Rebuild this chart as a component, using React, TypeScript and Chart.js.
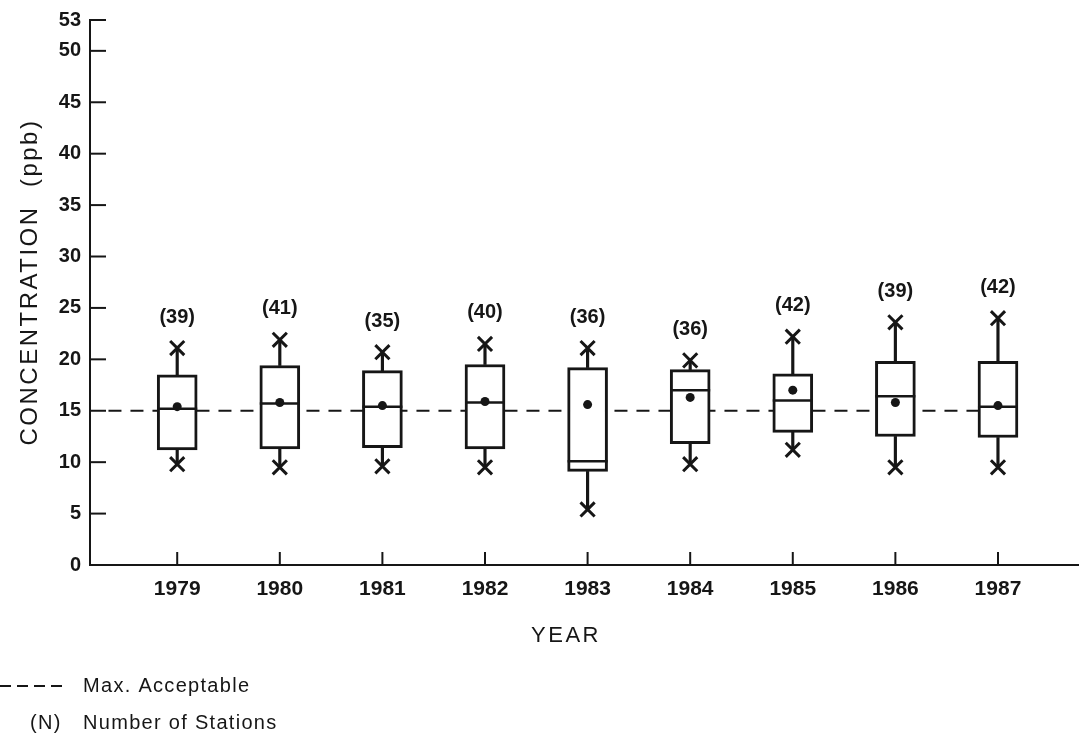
import React, { useEffect, useRef } from "react";
import { Chart, registerables } from "chart.js";

Chart.register(...registerables);

// ---- data ----
const years = [1979, 1980, 1981, 1982, 1983, 1984, 1985, 1986, 1987];
const stations = [39, 41, 35, 40, 36, 36, 42, 39, 42];
const maxValues = [21.1, 21.9, 20.7, 21.5, 21.1, 19.9, 22.2, 23.6, 24.0];
const q3Values = [18.5, 19.4, 18.9, 19.5, 19.2, 19.0, 18.6, 19.8, 19.8];
const medianValues = [15.2, 15.7, 15.4, 15.8, 10.1, 17.0, 16.0, 16.4, 15.4];
const meanValues = [15.4, 15.8, 15.5, 15.9, 15.6, 16.3, 17.0, 15.8, 15.5];
const q1Values = [11.2, 11.3, 11.4, 11.3, 9.1, 11.8, 12.9, 12.5, 12.4];
const minValues = [9.8, 9.5, 9.6, 9.5, 5.4, 9.8, 11.2, 9.5, 9.5];
const yTickValues = [0, 5, 10, 15, 20, 25, 30, 35, 40, 45, 50, 53];
const maxAcceptable = 15;
const maxAcceptableFrom = 1978.33;
const maxAcceptableTo = 1987;
const xMin = 1978.15;
const xMax = 1987.78;

const INK = "#161616";
const FONT = "'Liberation Sans', Arial, Helvetica, sans-serif";

const decorPlugin = {
  id: "decor",
  afterDatasetsDraw(chart: any) {
    const { ctx, scales, chartArea } = chart;
    const xs = scales.x;
    const ys = scales.y;
    ctx.save();
    ctx.strokeStyle = INK;
    ctx.fillStyle = INK;
    ctx.lineWidth = 2;
    ctx.setLineDash([]);
    // inward y ticks
    yTickValues.forEach((v) => {
      if (v === 0) return;
      const py = ys.getPixelForValue(v);
      ctx.beginPath();
      ctx.moveTo(chartArea.left, py);
      ctx.lineTo(chartArea.left + 16, py);
      ctx.stroke();
    });
    // inward x ticks
    years.forEach((yr) => {
      const px = xs.getPixelForValue(yr);
      ctx.beginPath();
      ctx.moveTo(px, chartArea.bottom);
      ctx.lineTo(px, chartArea.bottom - 13);
      ctx.stroke();
    });
    // station counts
    ctx.font = `bold 20px ${FONT}`;
    ctx.textAlign = "center";
    ctx.textBaseline = "middle";
    years.forEach((yr, i) => {
      const px = xs.getPixelForValue(yr);
      const py = ys.getPixelForValue(maxValues[i]) - 31;
      ctx.fillText(`(${stations[i]})`, px, py);
    });
    ctx.restore();
  },
  afterDraw(chart: any) {
    const { ctx } = chart;
    ctx.save();
    ctx.fillStyle = INK;
    ctx.strokeStyle = INK;
    // y title
    ctx.save();
    ctx.translate(30, 282);
    ctx.rotate(-Math.PI / 2);
    ctx.font = `24px ${FONT}`;
    (ctx as any).letterSpacing = "2.5px";
    ctx.textAlign = "center";
    ctx.textBaseline = "middle";
    ctx.fillText("CONCENTRATION  (ppb)", 0, 0);
    ctx.restore();
    // x title
    ctx.font = `22px ${FONT}`;
    (ctx as any).letterSpacing = "2.5px";
    ctx.textAlign = "center";
    ctx.textBaseline = "middle";
    ctx.fillText("YEAR", 566, 636);
    // legend
    ctx.lineWidth = 2;
    ctx.setLineDash([11, 6]);
    ctx.beginPath();
    ctx.moveTo(0, 686);
    ctx.lineTo(66, 686);
    ctx.stroke();
    ctx.setLineDash([]);
    ctx.font = `20px ${FONT}`;
    (ctx as any).letterSpacing = "1.3px";
    ctx.textAlign = "left";
    ctx.fillText("Max. Acceptable", 83, 686);
    ctx.fillText("(N)", 30, 723);
    ctx.fillText("Number of Stations", 83, 723);
    ctx.restore();
  },
};

export default function App() {
  const ref = useRef<HTMLCanvasElement | null>(null);

  useEffect(() => {
    document.body.style.margin = "0";
    document.body.style.background = "#ffffff";
    const canvas = ref.current;
    if (!canvas) return;

    const pts = (vals: number[]) => years.map((x, i) => ({ x, y: vals[i] }));

    const chart = new Chart(canvas, {
      type: "bar",
      data: {
        datasets: [
          {
            type: "line",
            data: [
              { x: maxAcceptableFrom, y: maxAcceptable },
              { x: maxAcceptableTo, y: maxAcceptable },
            ],
            borderColor: INK,
            borderWidth: 2,
            borderDash: [13, 9],
            pointRadius: 0,
            fill: false,
            order: 10,
          } as any,
          {
            type: "bar",
            data: years.map((x, i) => ({ x, y: [q3Values[i], maxValues[i]] })),
            backgroundColor: INK,
            borderWidth: 0,
            barThickness: 2.5,
            grouped: false,
            order: 8,
          } as any,
          {
            type: "bar",
            data: years.map((x, i) => ({ x, y: [minValues[i], q1Values[i]] })),
            backgroundColor: INK,
            borderWidth: 0,
            barThickness: 2.5,
            grouped: false,
            order: 8,
          } as any,
          {
            type: "bar",
            data: years.map((x, i) => ({ x, y: [q1Values[i], q3Values[i]] })),
            backgroundColor: "#ffffff",
            borderColor: INK,
            borderWidth: 3,
            borderSkipped: false,
            barThickness: 40,
            grouped: false,
            order: 5,
          } as any,
          {
            type: "scatter",
            data: pts(medianValues),
            pointStyle: "line",
            pointRadius: 20,
            pointBorderWidth: 2.5,
            borderColor: INK,
            backgroundColor: INK,
            order: 2,
          } as any,
          {
            type: "scatter",
            data: pts(meanValues),
            pointStyle: "circle",
            pointRadius: 4.5,
            pointBorderWidth: 0,
            borderColor: INK,
            backgroundColor: INK,
            order: 1,
          } as any,
          {
            type: "scatter",
            data: pts(maxValues),
            pointStyle: "crossRot",
            pointRadius: 10,
            pointBorderWidth: 3,
            borderColor: INK,
            backgroundColor: INK,
            order: 0,
          } as any,
          {
            type: "scatter",
            data: pts(minValues),
            pointStyle: "crossRot",
            pointRadius: 10,
            pointBorderWidth: 3,
            borderColor: INK,
            backgroundColor: INK,
            order: 0,
          } as any,
        ],
      },
      options: {
        responsive: false,
        animation: false,
        events: [],
        layout: { autoPadding: false, padding: { top: 20, right: 3, left: 0, bottom: 0 } },
        plugins: {
          legend: { display: false },
          tooltip: { enabled: false },
        },
        scales: {
          x: {
            type: "linear",
            offset: false,
            min: xMin,
            max: xMax,
            afterBuildTicks: (s: any) => {
              s.ticks = years.map((v) => ({ value: v }));
            },
            afterFit: (s: any) => {
              s.height = 176;
              s.paddingLeft = 0;
              s.paddingRight = 0;
            },
            grid: { display: false, drawTicks: false, offset: false },
            border: { display: true, color: INK, width: 2 },
            ticks: {
              padding: 12,
              color: INK,
              autoSkip: false,
              maxRotation: 0,
              font: { family: FONT, size: 21, weight: "bold" },
              callback: (v: any) => String(v),
            },
          },
          y: {
            type: "linear",
            min: 0,
            max: 53,
            afterBuildTicks: (s: any) => {
              s.ticks = yTickValues.map((v) => ({ value: v }));
            },
            afterFit: (s: any) => {
              s.width = 90;
              s.paddingTop = 0;
              s.paddingBottom = 0;
            },
            grid: { display: false, drawTicks: false },
            border: { display: true, color: INK, width: 2 },
            ticks: {
              padding: 9,
              color: INK,
              autoSkip: false,
              font: { family: FONT, size: 20, weight: "bold" },
              callback: (v: any) => String(v),
            },
          },
        },
      } as any,
      plugins: [decorPlugin],
    });

    return () => chart.destroy();
  }, []);

  return (
    <div style={{ width: 1081, height: 741, overflow: "hidden", background: "#fff" }}>
      <canvas ref={ref} width={1081} height={741} style={{ display: "block" }} />
    </div>
  );
}
